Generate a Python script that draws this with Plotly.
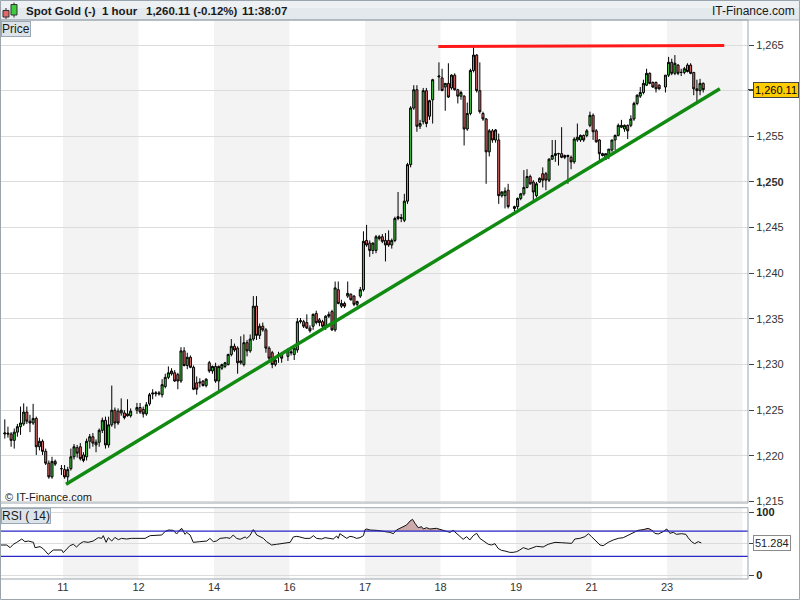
import plotly.graph_objects as go

# ---------------- data ----------------
# hour index relative to the start of day "11"; missing hours = daily market break
hours = [
    -19, -18, -17, -16, -15, -14, -13, -12, -11, -10, -9, -8, -7, -6, -5, -4, -3, -1,
    0, 1, 2, 3, 4, 5, 6, 7, 8, 9, 10, 11, 12, 13, 14, 15, 16, 17, 18, 19, 20, 21, 23,
    24, 25, 26, 27, 28, 29, 30, 31, 32, 33, 34, 35, 36, 37, 38, 39, 40, 41, 42, 43, 44, 45, 46, 47,
    48, 49, 50, 51, 52, 53, 54, 55, 56, 57, 58, 59, 60, 61, 62, 63, 64, 65, 66, 67, 68, 69, 71,
    72, 73, 74, 75, 76, 77, 78, 79, 80, 81, 82, 83, 84, 85, 86, 87, 88, 89, 90, 91, 92, 93, 94, 95,
    96, 97, 98, 99, 100, 101, 102, 103, 104, 105, 106, 107, 108, 109, 110, 111, 112, 113, 114, 115, 116, 117, 119,
    120, 121, 122, 123, 124, 125, 126, 127, 128, 129, 130, 131, 132, 133, 134, 135, 136, 137, 138, 139, 140, 141, 143,
    144, 145, 146, 147, 148, 149, 150, 151, 152, 153, 154, 155, 156, 157, 158, 159, 160, 161, 162, 163, 164, 165, 166, 167,
    168, 169, 170, 171, 172, 173, 174, 175, 176, 177, 178, 179, 180, 181, 182, 183, 184, 185, 186, 187, 188, 189, 191,
    192, 193, 194, 195, 196, 197, 198, 199, 200, 201, 202, 203,
]

opens = [
    1222.4, 1222.5, 1222.4, 1221.7, 1222.6, 1223.2, 1223.5, 1224.8, 1223.8, 1223.6, 1224.1, 1221.0, 1221.6, 1220.5, 1219.2, 1217.7, 1219.4, 1218.6,
    1218.5, 1217.7, 1218.6, 1219.9, 1220.9, 1221.0, 1220.1, 1219.9, 1221.6, 1222.1, 1221.2, 1221.5, 1222.8, 1223.9, 1221.2, 1223.4, 1225.0, 1224.9, 1224.7, 1224.7, 1224.6, 1224.4, 1225.0,
    1225.3, 1225.1, 1224.6, 1225.7, 1226.9, 1226.8, 1226.9, 1226.7, 1227.6, 1228.6, 1229.0, 1229.1, 1228.9, 1228.2, 1231.5, 1229.9, 1230.8, 1229.7, 1228.0, 1228.1, 1228.2, 1227.7, 1230.2, 1229.3,
    1229.8, 1228.2, 1229.6, 1229.8, 1230.0, 1231.1, 1232.0, 1231.8, 1230.2, 1230.0, 1232.4, 1231.5, 1232.8, 1236.4, 1233.2, 1234.2, 1233.8, 1231.8, 1231.3, 1230.0, 1231.0, 1231.1, 1230.9,
    1231.4, 1231.1, 1231.6, 1234.7, 1234.7, 1234.6, 1234.0, 1234.2, 1235.6, 1234.9, 1234.7, 1234.2, 1235.5, 1235.8, 1233.8, 1238.2, 1236.4, 1236.7, 1237.5, 1237.7, 1237.5, 1236.6, 1237.5, 1238.2,
    1243.6, 1243.3, 1242.5, 1242.5, 1244.0, 1244.0, 1243.6, 1243.6, 1243.1, 1243.6, 1246.0, 1246.0, 1245.8, 1247.9, 1251.9, 1258.1, 1260.1, 1256.1, 1256.6, 1260.0, 1257.2, 1259.0, 1261.5,
    1261.4, 1260.4, 1260.8, 1260.3, 1261.7, 1260.1, 1259.4, 1259.4, 1255.8, 1257.5, 1262.2, 1263.9, 1260.0, 1257.5, 1256.9, 1253.3, 1255.6, 1254.6, 1254.6, 1248.5, 1248.5, 1249.1, 1247.1,
    1247.3, 1248.2, 1248.7, 1249.4, 1250.6, 1250.0, 1248.5, 1250.0, 1250.9, 1250.9, 1250.2, 1252.5, 1252.9, 1253.1, 1253.1, 1252.9, 1252.9, 1252.7, 1252.2, 1254.6, 1254.6, 1255.1, 1255.1, 1256.2,
    1257.3, 1255.6, 1254.6, 1253.1, 1252.5, 1252.9, 1253.5, 1254.6, 1255.1, 1256.0, 1255.8, 1256.2, 1256.2, 1256.9, 1258.6, 1259.4, 1259.8, 1260.6, 1261.9, 1260.9, 1260.9, 1260.6, 1260.4,
    1261.7, 1263.1, 1261.9, 1262.8, 1262.0, 1262.0, 1262.8, 1262.8, 1262.0, 1260.2, 1260.0, 1260.8,
]

highs = [
    1224.0, 1223.2, 1222.6, 1223.0, 1223.5, 1225.4, 1225.75, 1225.4, 1224.5, 1225.7, 1224.3, 1222.0, 1221.8, 1220.8, 1219.5, 1219.9, 1219.6, 1219.0,
    1219.0, 1218.8, 1220.8, 1221.3, 1221.2, 1221.4, 1220.4, 1221.9, 1222.4, 1222.5, 1221.8, 1223.0, 1224.2, 1224.3, 1224.3, 1227.7, 1225.3, 1225.2, 1226.3, 1225.0, 1226.2, 1225.2, 1225.8,
    1225.8, 1225.4, 1225.9, 1226.9, 1227.3, 1227.1, 1227.1, 1228.4, 1229.0, 1229.8, 1229.6, 1229.4, 1229.1, 1231.9, 1231.9, 1231.3, 1231.0, 1229.9, 1228.7, 1228.5, 1228.3, 1228.5, 1230.4, 1229.9,
    1230.2, 1229.9, 1230.1, 1230.3, 1231.2, 1232.8, 1232.3, 1232.0, 1233.1, 1233.3, 1232.7, 1233.3, 1237.5, 1237.5, 1234.5, 1234.6, 1234.0, 1232.0, 1231.5, 1230.7, 1231.4, 1231.3, 1231.8,
    1231.6, 1231.9, 1235.1, 1235.1, 1234.9, 1235.5, 1234.3, 1235.6, 1235.9, 1235.1, 1234.9, 1235.4, 1235.8, 1236.0, 1239.1, 1239.1, 1237.1, 1236.9, 1239.1, 1237.8, 1237.6, 1237.0, 1238.5, 1244.6,
    1245.3, 1243.6, 1243.4, 1244.2, 1244.2, 1244.3, 1244.4, 1244.7, 1243.8, 1246.2, 1248.9, 1246.5, 1248.7, 1252.1, 1258.3, 1260.6, 1260.6, 1256.8, 1260.3, 1260.3, 1259.0, 1261.3, 1263.1,
    1262.4, 1260.8, 1263.0, 1261.8, 1261.9, 1260.2, 1260.0, 1259.5, 1258.7, 1262.4, 1265.0, 1264.0, 1263.1, 1257.7, 1257.0, 1255.8, 1255.8, 1255.8, 1255.3, 1249.0, 1249.4, 1249.8, 1247.4,
    1248.3, 1248.8, 1251.3, 1251.4, 1250.8, 1250.2, 1250.0, 1250.5, 1251.6, 1251.1, 1252.6, 1254.6, 1254.6, 1253.2, 1256.0, 1253.0, 1253.0, 1252.9, 1254.9, 1256.4, 1255.2, 1255.2, 1255.8, 1257.7,
    1257.5, 1255.8, 1254.7, 1253.2, 1253.1, 1253.6, 1254.6, 1255.2, 1256.4, 1256.8, 1256.3, 1256.3, 1257.3, 1258.8, 1259.6, 1260.4, 1261.2, 1262.4, 1262.0, 1261.0, 1261.0, 1260.7, 1261.7,
    1263.7, 1263.5, 1263.9, 1262.9, 1262.4, 1262.6, 1263.0, 1263.0, 1262.0, 1261.2, 1261.3, 1260.9,
]

lows = [
    1221.9, 1222.0, 1221.0, 1220.8, 1222.1, 1222.3, 1223.3, 1223.5, 1222.6, 1223.4, 1220.1, 1220.6, 1220.1, 1219.0, 1217.5, 1217.5, 1218.9, 1217.9,
    1217.5, 1216.8, 1218.4, 1219.6, 1219.8, 1219.5, 1219.3, 1219.5, 1220.8, 1221.0, 1220.4, 1221.0, 1222.5, 1220.8, 1220.9, 1223.2, 1223.0, 1223.4, 1224.4, 1224.0, 1224.3, 1224.2, 1224.6,
    1224.6, 1224.2, 1224.4, 1225.5, 1226.2, 1226.5, 1226.6, 1226.4, 1227.4, 1228.4, 1228.8, 1228.1, 1227.3, 1228.0, 1229.8, 1229.5, 1229.6, 1227.2, 1226.7, 1227.5, 1227.6, 1227.5, 1229.1, 1229.0,
    1228.0, 1226.9, 1229.4, 1229.6, 1229.9, 1230.9, 1231.4, 1229.0, 1230.0, 1229.8, 1230.9, 1231.3, 1232.6, 1232.7, 1232.8, 1233.6, 1231.3, 1230.5, 1229.6, 1229.8, 1230.2, 1230.2, 1230.4,
    1231.0, 1230.5, 1231.3, 1234.5, 1234.0, 1233.9, 1233.5, 1233.8, 1234.4, 1234.2, 1234.0, 1233.8, 1235.1, 1233.7, 1233.6, 1236.6, 1236.2, 1236.2, 1237.3, 1237.0, 1236.4, 1236.4, 1237.3, 1238.0,
    1242.9, 1241.8, 1242.1, 1242.2, 1243.6, 1243.3, 1241.3, 1242.9, 1242.7, 1243.4, 1245.8, 1245.6, 1245.6, 1247.6, 1251.6, 1257.9, 1255.5, 1255.8, 1256.3, 1256.0, 1256.8, 1256.4, 1260.0,
    1260.0, 1257.8, 1259.2, 1260.1, 1260.0, 1258.6, 1259.0, 1254.0, 1255.6, 1257.3, 1262.0, 1259.8, 1257.5, 1256.7, 1249.8, 1252.8, 1254.3, 1254.3, 1247.6, 1248.3, 1247.1, 1247.1, 1246.8,
    1247.0, 1248.0, 1248.5, 1249.3, 1249.7, 1248.0, 1248.3, 1249.9, 1249.4, 1249.1, 1250.0, 1252.4, 1252.2, 1251.8, 1252.6, 1252.5, 1249.8, 1251.4, 1252.0, 1254.4, 1254.4, 1254.4, 1254.9, 1256.0,
    1254.6, 1254.3, 1252.4, 1252.8, 1252.4, 1252.5, 1253.3, 1253.5, 1255.0, 1255.9, 1255.5, 1254.7, 1256.0, 1256.7, 1258.4, 1259.2, 1259.6, 1260.5, 1260.7, 1260.3, 1259.8, 1260.1, 1259.8,
    1261.5, 1261.7, 1261.7, 1261.7, 1261.6, 1261.8, 1262.0, 1261.8, 1259.5, 1258.6, 1259.5, 1259.8,
]

closes = [
    1222.5, 1222.4, 1221.7, 1222.6, 1223.2, 1223.6, 1224.8, 1223.8, 1223.6, 1224.1, 1221.0, 1221.6, 1220.5, 1219.2, 1217.7, 1219.4, 1219.1, 1218.6,
    1217.7, 1218.5, 1219.9, 1221.0, 1220.3, 1219.7, 1219.5, 1221.6, 1222.1, 1221.4, 1221.5, 1222.8, 1223.9, 1221.2, 1223.4, 1225.0, 1223.6, 1223.6, 1225.0, 1224.2, 1224.4, 1224.9, 1225.3,
    1224.8, 1224.6, 1225.6, 1226.7, 1226.8, 1226.9, 1226.8, 1227.8, 1228.6, 1229.1, 1229.3, 1228.2, 1228.2, 1231.5, 1229.9, 1230.8, 1229.7, 1227.3, 1227.3, 1228.0, 1227.7, 1228.4, 1229.3, 1229.8,
    1228.2, 1229.8, 1230.0, 1230.2, 1231.1, 1232.0, 1231.6, 1230.2, 1230.4, 1232.4, 1231.5, 1232.8, 1236.4, 1233.2, 1234.2, 1233.8, 1231.8, 1230.7, 1230.0, 1230.5, 1231.1, 1230.7, 1231.6,
    1231.3, 1231.8, 1234.7, 1234.8, 1234.2, 1234.0, 1233.7, 1235.5, 1234.6, 1234.6, 1234.2, 1235.3, 1235.3, 1233.8, 1238.4, 1236.7, 1236.7, 1236.4, 1237.8, 1237.1, 1236.6, 1236.9, 1238.2, 1243.5,
    1243.1, 1242.5, 1243.3, 1244.0, 1243.8, 1243.5, 1243.1, 1243.1, 1243.6, 1246.0, 1246.2, 1246.1, 1247.9, 1251.9, 1258.1, 1260.1, 1256.1, 1256.4, 1260.0, 1256.4, 1258.9, 1261.2, 1261.6,
    1260.0, 1260.8, 1259.3, 1261.7, 1260.1, 1259.4, 1259.8, 1255.8, 1257.5, 1262.2, 1263.9, 1260.0, 1257.7, 1256.9, 1253.3, 1255.6, 1254.6, 1255.7, 1248.5, 1248.9, 1249.0, 1247.3, 1247.3,
    1248.2, 1248.7, 1249.4, 1250.6, 1249.8, 1248.9, 1249.8, 1250.4, 1250.2, 1250.2, 1252.5, 1252.9, 1253.1, 1253.1, 1252.7, 1252.7, 1252.8, 1252.2, 1254.7, 1254.9, 1255.1, 1254.6, 1255.6, 1257.3,
    1255.5, 1254.4, 1253.1, 1252.9, 1253.1, 1253.6, 1254.6, 1255.1, 1256.2, 1256.2, 1256.2, 1255.6, 1256.9, 1258.6, 1259.5, 1259.8, 1260.8, 1261.9, 1260.8, 1260.4, 1260.2, 1260.2, 1261.7,
    1263.1, 1261.9, 1263.0, 1261.9, 1262.0, 1262.4, 1262.1, 1261.9, 1260.2, 1260.0, 1260.8, 1260.11,
]

rsi_hours = [
    -20.0, -17.9, -16.8, -15.8, -14.7, -13.1, -12.1, -11.0, -9.4, -8.9, -7.3, -6.2, -4.7, -3.6, -3.1, -0.4,
    0.1, 1.2, 2.2, 3.3, 4.3, 5.4, 6.5, 8.0, 9.6, 11.2, 12.3, 12.8, 13.7, 14.4, 15.5, 16.5, 17.6, 18.6, 20.2, 21.8, 23.4,
    25.0, 26.1, 27.7, 29.8, 31.4, 32.4, 33.5, 35.1, 36.1, 37.7, 38.8, 39.3, 40.4, 41.4, 42.5, 43.5, 45.7, 46.7, 47.8,
    48.8, 49.9, 52.0, 53.1, 54.1, 55.2, 56.3, 57.9, 58.4, 59.4, 60.5, 61.6, 62.6, 63.7, 64.7, 66.3, 67.9, 70.0,
    72.2, 73.2, 74.3, 75.3, 76.9, 78.5, 79.6, 80.6, 82.2, 83.3, 84.3, 85.9, 87.0, 87.5, 88.0, 89.1, 90.2, 91.2, 92.3, 93.3, 94.4, 95.5,
    96.0, 96.5, 97.6, 99.7, 101.8, 103.9, 105.0, 106.0, 107.1, 108.1, 109.2, 110.3, 111.1, 111.9, 112.9, 114.0, 114.5, 115.6, 116.6, 118.7,
    120.3, 121.9, 123.0, 124.0, 125.6, 127.2, 128.3, 129.3, 130.4, 131.5, 132.5, 134.1, 135.2, 136.2, 137.3, 138.3, 139.4, 140.5, 142.0, 143.1,
    144.2, 145.2, 146.3, 147.9, 149.5, 150.5, 151.6, 152.6, 154.2, 156.4, 158.5, 160.1, 161.7, 162.7, 164.3, 165.9, 167.0,
    168.0, 169.6, 170.7, 171.7, 173.3, 174.9, 176.5, 178.1, 179.7, 181.3, 182.8, 184.4, 186.0, 187.1, 188.1, 189.2, 190.8, 191.9,
    192.9, 194.0, 195.0, 196.6, 198.0, 198.7, 199.8, 200.8, 201.9, 202.9,
]
rsi_values = [
    47.9, 47.9, 43.7, 49.0, 52.1, 57.4, 53.2, 54.2, 52.1, 43.7, 45.3, 41.6, 33.1, 38.4, 40.0, 40.0,
    35.8, 41.6, 46.9, 49.0, 44.7, 50.0, 53.2, 52.1, 54.2, 59.5, 58.4, 62.7, 52.1, 59.5, 54.2, 60.0, 56.3, 58.4, 57.4, 58.4, 58.4,
    58.4, 58.4, 62.7, 63.7, 63.7, 69.0, 71.6, 71.1, 65.3, 74.3, 64.8, 67.9, 63.7, 52.1, 53.2, 53.2, 54.2, 58.4, 53.2,
    54.2, 58.4, 59.5, 58.4, 63.7, 58.4, 56.9, 60.6, 58.4, 62.7, 72.2, 63.7, 60.6, 58.4, 53.2, 47.9, 49.0, 50.0,
    52.1, 60.6, 61.6, 60.6, 58.4, 58.4, 62.7, 58.4, 57.4, 59.5, 58.4, 57.4, 62.1, 58.4, 65.8, 62.1, 58.4, 61.6, 60.6, 58.4, 59.5, 62.7,
    72.2, 73.2, 71.6, 71.1, 70.0, 67.9, 65.8, 71.6, 74.3, 76.9, 79.5, 85.8, 88.5, 82.2, 75.3, 76.9, 73.2, 75.3, 73.2, 74.3,
    72.2, 70.0, 67.9, 71.1, 63.7, 56.9, 61.1, 55.8, 62.7, 66.4, 58.4, 52.1, 49.0, 47.9, 50.0, 42.6, 39.4, 38.4, 36.3, 36.3,
    37.4, 40.0, 43.7, 41.0, 43.7, 45.8, 45.3, 44.7, 49.0, 52.1, 51.5, 51.0, 50.5, 57.4, 58.4, 61.1, 65.8,
    61.1, 53.2, 47.9, 46.8, 52.1, 55.8, 58.4, 59.5, 63.7, 67.9, 71.1, 72.2, 74.3, 71.6, 66.4, 65.3, 69.0, 73.2,
    66.4, 67.9, 64.8, 65.8, 64.8, 59.5, 53.2, 50.0, 53.2, 51.284,
]

day_ticks = [0, 24, 48, 72, 96, 120, 144, 168, 192]
day_labels = ["11", "12", "14", "16", "17", "18", "19", "21", "23"]

price_ticks = [1215, 1220, 1225, 1230, 1235, 1240, 1245, 1250, 1255, 1260, 1265]
# the 1,260 label sits under the current-price box in the reference
price_labels = ["1,215", "1,220", "1,225", "1,230", "1,235", "1,240", "1,245", "<b>1,250</b>", "1,255", "", "1,265"]

support_h = [0.95, 208.8]
support_p = [1216.9, 1260.2]
resist_h = [119.3, 210.2]
resist_p = [1264.85, 1264.95]

last_price = 1260.11
last_price_text = "1,260.11"
last_rsi_text = "51.284"
rsi_upper, rsi_lower = 70, 30

header_parts = ["Spot Gold (-)", "1 hour", "1,260.11 (-0.12%)", "11:38:07"]

n = len(hours)
for arr in (opens, highs, lows, closes):
    if len(arr) != n:
        raise SystemExit("length mismatch %d vs %d" % (len(arr), n))
if len(rsi_hours) != len(rsi_values):
    raise SystemExit("rsi length mismatch %d vs %d" % (len(rsi_hours), len(rsi_values)))

# ---------------- layout helpers ----------------
W, H = 800, 600
FONT = "Liberation Sans, Arial, sans-serif"


def px(x):
    return x / W


def py(y):
    return 1 - y / H


X_DOM = [px(1), px(748)]
X_RANGE = [-19.71, 217.74]
MAIN_DOM = [py(503), py(20)]
RSI_DOM = [py(579), py(507.7)]

fig = go.Figure()

# candles
fig.add_trace(go.Candlestick(
    x=[h + 0.5 for h in hours], open=opens, high=highs, low=lows, close=closes,
    increasing=dict(fillcolor="#3ecb3e", line=dict(color="#000000", width=1)),
    decreasing=dict(fillcolor="#e46c6c", line=dict(color="#000000", width=1)),
    whiskerwidth=0, xaxis="x", yaxis="y", hoverinfo="skip", showlegend=False,
))

# trend lines
fig.add_trace(go.Scatter(x=support_h, y=support_p, mode="lines",
                         line=dict(color="#118a11", width=3.5), xaxis="x", yaxis="y",
                         hoverinfo="skip", showlegend=False))
fig.add_trace(go.Scatter(x=resist_h, y=resist_p, mode="lines",
                         line=dict(color="#ff1a1a", width=3), xaxis="x", yaxis="y",
                         hoverinfo="skip", showlegend=False))

# RSI overbought fill
fig.add_trace(go.Scatter(x=rsi_hours, y=[rsi_upper] * len(rsi_hours), mode="lines",
                         line=dict(width=0, color="rgba(0,0,0,0)"), xaxis="x2", yaxis="y2",
                         hoverinfo="skip", showlegend=False))
fig.add_trace(go.Scatter(x=rsi_hours, y=[max(v, rsi_upper) for v in rsi_values], mode="lines",
                         fill="tonexty", fillcolor="rgba(196,150,150,0.8)",
                         line=dict(width=0, color="rgba(0,0,0,0)"), xaxis="x2", yaxis="y2",
                         hoverinfo="skip", showlegend=False))
fig.add_trace(go.Scatter(x=rsi_hours, y=rsi_values, mode="lines",
                         line=dict(color="#111111", width=1), xaxis="x2", yaxis="y2",
                         hoverinfo="skip", showlegend=False))

shapes = []
# header background (two-tone to suggest the gradient)
shapes.append(dict(type="rect", xref="paper", yref="paper", x0=0, x1=1, y0=py(20), y1=1,
                   fillcolor="#e4e9ed", line=dict(width=0), layer="below"))
shapes.append(dict(type="rect", xref="paper", yref="paper", x0=0, x1=1, y0=py(8), y1=1,
                   fillcolor="#eef1f4", line=dict(width=0), layer="below"))
shapes.append(dict(type="line", xref="paper", yref="paper", x0=0, x1=1, y0=py(20), y1=py(20),
                   line=dict(color="#a9b3bb", width=1)))

# alternating day bands
for i in range(0, len(day_ticks), 2):
    start = day_ticks[i]
    end = start + 24
    for xr, yr in (("x", "y domain"), ("x2", "y2 domain")):
        shapes.append(dict(type="rect", xref=xr, yref=yr,
                           x0=start, x1=end, y0=0, y1=1, fillcolor="#f3f3f3",
                           line=dict(width=0), layer="below"))

# RSI 70 / 30 lines
for lvl in (rsi_upper, rsi_lower):
    shapes.append(dict(type="line", xref="x2 domain", yref="y2", x0=0, x1=1, y0=lvl, y1=lvl,
                       line=dict(color="#2727c8", width=1.2)))

# panel frames
for (y0, y1) in ((503, 20), (579, 507.7)):
    shapes.append(dict(type="rect", xref="paper", yref="paper", x0=px(0.5), x1=px(748),
                       y0=py(y0), y1=py(y1), line=dict(color="#9aa5ae", width=1),
                       fillcolor="rgba(0,0,0,0)"))
# outer frame
shapes.append(dict(type="rect", xref="paper", yref="paper", x0=px(0.5), x1=px(799.5),
                   y0=py(599.5), y1=py(0.5), line=dict(color="#9aa5ae", width=1),
                   fillcolor="rgba(0,0,0,0)"))
# last price dash
shapes.append(dict(type="line", xref="paper", yref="y", x0=px(748), x1=px(753),
                   y0=last_price, y1=last_price, line=dict(color="#222222", width=1)))

# header icon (small red and green candles)
shapes.append(dict(type="line", xref="paper", yref="paper", x0=px(6), x1=px(6), y0=py(8), y1=py(19),
                   line=dict(color="#333", width=1)))
shapes.append(dict(type="rect", xref="paper", yref="paper", x0=px(3), x1=px(9), y0=py(17), y1=py(10.5),
                   fillcolor="#e06a6a", line=dict(color="#333", width=1)))
shapes.append(dict(type="line", xref="paper", yref="paper", x0=px(14), x1=px(14), y0=py(2.5), y1=py(17.5),
                   line=dict(color="#333", width=1)))
shapes.append(dict(type="rect", xref="paper", yref="paper", x0=px(11), x1=px(17), y0=py(15), y1=py(4.5),
                   fillcolor="#3ecb3e", line=dict(color="#333", width=1)))

annotations = []
hx = [24, 100, 144, 240]
for t, x in zip(header_parts, hx):
    annotations.append(dict(text="<b>%s</b>" % t, xref="paper", yref="paper", x=px(x), y=py(11),
                            xanchor="left", yanchor="middle", showarrow=False,
                            font=dict(family=FONT, size=11.5, color="#1a1a1a")))
annotations.append(dict(text="IT-Finance.com", xref="paper", yref="paper", x=px(797), y=py(11),
                        xanchor="right", yanchor="middle", showarrow=False,
                        font=dict(family=FONT, size=12, color="#1a1a1a")))
annotations.append(dict(text="Price", xref="paper", yref="paper", x=px(0.5), y=py(20.5),
                        xanchor="left", yanchor="top", showarrow=False,
                        bgcolor="#dce4ea", bordercolor="#9aa8b4", borderwidth=1, borderpad=0,
                        font=dict(family=FONT, size=12, color="#1a1a1a")))
annotations.append(dict(text="RSI ( 14)", xref="paper", yref="paper", x=px(0.5), y=py(508),
                        xanchor="left", yanchor="top", showarrow=False,
                        bgcolor="#dce4ea", bordercolor="#9aa8b4", borderwidth=1, borderpad=0,
                        font=dict(family=FONT, size=12, color="#1a1a1a")))
annotations.append(dict(text="© IT-Finance.com", xref="paper", yref="paper", x=px(3), y=py(497),
                        xanchor="left", yanchor="middle", showarrow=False,
                        font=dict(family=FONT, size=11, color="#1a1a1a")))
annotations.append(dict(text=last_price_text, xref="paper", yref="y", x=px(752.5), y=last_price,
                        xanchor="left", yanchor="middle", showarrow=False,
                        bgcolor="#ffcc00", bordercolor="#444444", borderwidth=1, borderpad=1,
                        font=dict(family=FONT, size=11, color="#000000")))
annotations.append(dict(text=last_rsi_text, xref="paper", yref="y2", x=px(752.5), y=rsi_values[-1],
                        xanchor="left", yanchor="middle", showarrow=False,
                        bgcolor="#ffffff", bordercolor="#8a8a8a", borderwidth=1, borderpad=1,
                        font=dict(family=FONT, size=11, color="#222222")))

fig.update_layout(
    width=W, height=H, margin=dict(l=0, r=0, t=0, b=0, autoexpand=False),
    paper_bgcolor="#ffffff", plot_bgcolor="#ffffff",
    showlegend=False, boxgap=0.08,
    font=dict(family=FONT, size=11, color="#222"),
    xaxis=dict(domain=X_DOM, range=X_RANGE, anchor="y", showticklabels=False, showgrid=False,
               zeroline=False, showline=False, ticks="", rangeslider=dict(visible=False),
               fixedrange=True, automargin=False),
    yaxis=dict(domain=MAIN_DOM, range=[1214.84, 1267.74], anchor="x", side="right",
               tickvals=price_ticks, ticktext=price_labels, ticks="outside", ticklen=5,
               tickcolor="#444", tickfont=dict(family=FONT, size=11, color="#333"),
               showgrid=True, gridcolor="#dcdcdc", gridwidth=1, zeroline=False,
               showline=False, fixedrange=True, automargin=False),
    xaxis2=dict(domain=X_DOM, range=X_RANGE, anchor="y2", tickvals=day_ticks, ticktext=day_labels,
                ticks="", showgrid=False, zeroline=False, showline=False,
                tickfont=dict(family=FONT, size=11, color="#333"), fixedrange=True,
                automargin=False),
    yaxis2=dict(domain=RSI_DOM, range=[-5.85, 106.9], anchor="x2", side="right",
                tickvals=[0, 50, 100], ticktext=["<b>0</b>", "", "<b>100</b>"], ticks="outside",
                ticklen=5, tickcolor="#444", tickfont=dict(family=FONT, size=11, color="#222"),
                showgrid=True, gridcolor="#dcdcdc", gridwidth=1, zeroline=False, showline=False,
                fixedrange=True, automargin=False),
    shapes=shapes, annotations=annotations,
)

fig.write_html(
    "out.html",
    config={"displayModeBar": False},
    post_script="document.body.style.margin='0px'; document.body.style.padding='0px'; document.body.style.overflow='hidden';",
)
